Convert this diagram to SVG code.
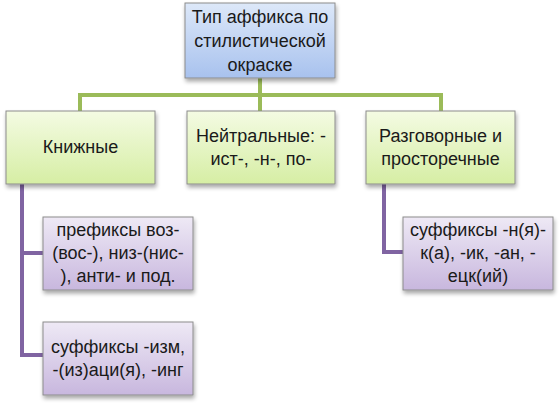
<svg xmlns="http://www.w3.org/2000/svg" width="559" height="406" viewBox="0 0 559 406">
<defs>
<linearGradient id="gBlue" x1="0" y1="0" x2="0" y2="1"><stop offset="0" stop-color="#dde8f9"/><stop offset="1" stop-color="#a8c2ee"/></linearGradient>
<linearGradient id="gGreen" x1="0" y1="0" x2="0" y2="1"><stop offset="0" stop-color="#f4fbe3"/><stop offset="1" stop-color="#d6eea4"/></linearGradient>
<linearGradient id="gPurple" x1="0" y1="0" x2="0" y2="1"><stop offset="0" stop-color="#eee9f5"/><stop offset="1" stop-color="#c8b7de"/></linearGradient>
<filter id="sh" x="-10%" y="-10%" width="130%" height="130%"><feGaussianBlur in="SourceAlpha" stdDeviation="2"/><feOffset dx="1" dy="3"/><feComponentTransfer><feFuncA type="linear" slope="0.35"/></feComponentTransfer><feMerge><feMergeNode/><feMergeNode in="SourceGraphic"/></feMerge></filter>
</defs>
<style>
.box{stroke:#8c8c8c;stroke-width:1;filter:url(#sh)}
.t{font-family:"Liberation Sans",Arial,sans-serif;font-size:18px;fill:#1a1a1a;text-anchor:middle}
.cg{stroke:#9bbb59;stroke-width:4;fill:none}
.cp{stroke:#8064a2;stroke-width:4;fill:none}
</style>
<g id="connectors">
<path class="cg" d="M260 78V95M80 111V95H441V111M260 95V111"/>
<path class="cp" d="M22 184V355H43M22 253H43"/>
<path class="cp" d="M384 184V252H403"/>
</g>
<g id="root"><rect class="box" x="185" y="3" width="150" height="75" fill="url(#gBlue)"/>
<text class="t" x="260" y="23">Тип аффикса по</text><text class="t" x="260" y="47">стилистической</text><text class="t" x="260" y="71">окраске</text></g>
<g id="knizh"><rect class="box" x="6" y="111" width="149" height="73" fill="url(#gGreen)"/>
<text class="t" x="80.5" y="153">Книжные</text></g>
<g id="neutral"><rect class="box" x="187" y="111" width="148" height="73" fill="url(#gGreen)"/>
<text class="t" x="261" y="142">Нейтральные: -</text><text class="t" x="261" y="165">ист-, -н-, по-</text></g>
<g id="razg"><rect class="box" x="366" y="111" width="149" height="73" fill="url(#gGreen)"/>
<text class="t" x="440.5" y="142">Разговорные и</text><text class="t" x="440.5" y="165">просторечные</text></g>
<g id="pref"><rect class="box" x="43" y="217" width="150" height="73" fill="url(#gPurple)"/>
<text class="t" x="118" y="236">префиксы воз-</text><text class="t" x="118" y="259">(вос-), низ-(нис-</text><text class="t" x="118" y="282">), анти- и под.</text></g>
<g id="suff1"><rect class="box" x="43" y="322" width="150" height="73" fill="url(#gPurple)"/>
<text class="t" x="118" y="353">суффиксы -изм,</text><text class="t" x="118" y="376">-(из)аци(я), -инг</text></g>
<g id="suff2"><rect class="box" x="403" y="217" width="150" height="73" fill="url(#gPurple)"/>
<text class="t" x="478" y="236">суффиксы -н(я)-</text><text class="t" x="478" y="259">к(а), -ик, -ан, -</text><text class="t" x="478" y="282">ецк(ий)</text></g>
</svg>
